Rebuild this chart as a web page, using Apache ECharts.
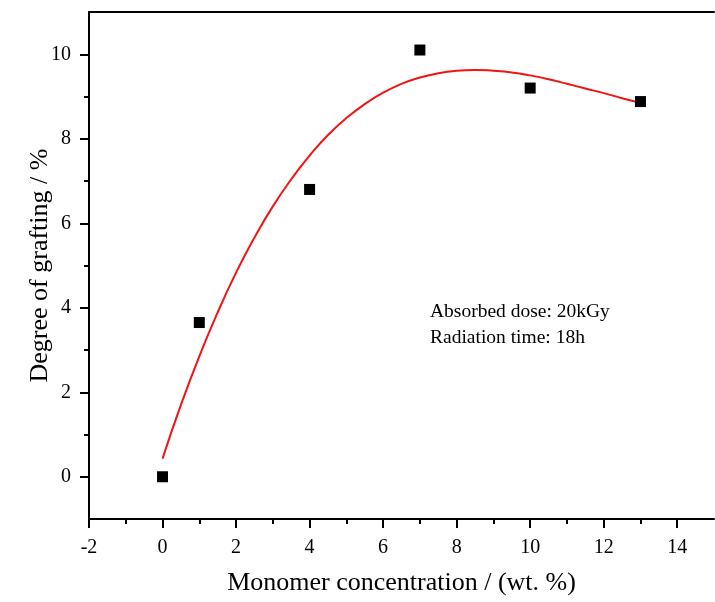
<!DOCTYPE html>
<html>
<head>
<meta charset="utf-8">
<script src="https://cdn.jsdelivr.net/npm/echarts@6/dist/echarts.min.js"></script>
<style>html,body{margin:0;padding:0;background:#fff;}#c{width:715px;height:602px;}</style>
</head>
<body>
<div id="c"></div>
<script>
// Measured points (x: monomer concentration wt.%, y: degree of grafting %)
const concX = [0, 1, 4, 7, 10, 13];
const graftY = [0, 3.65, 6.8, 10.1, 9.2, 8.88];
// Fitted curve
const fitX = [0, 0.5, 1, 1.5, 2, 2.5, 3, 3.5, 4, 4.5, 5, 5.5, 6, 6.5, 7, 7.5, 8, 8.5, 9, 9.5, 10, 10.5, 11, 11.5, 12, 12.5, 13];
const fitY = [0.43, 1.70, 2.85, 3.89, 4.83, 5.66, 6.40, 7.04, 7.60, 8.09, 8.49, 8.82, 9.09, 9.30, 9.45, 9.55, 9.61, 9.63, 9.61, 9.57, 9.50, 9.41, 9.30, 9.19, 9.08, 8.96, 8.85];
// Tick labels
const xMajor = [-2, 0, 2, 4, 6, 8, 10, 12, 14];
const xMinor = [-1, 1, 3, 5, 7, 9, 11, 13];
const yMajor = [0, 2, 4, 6, 8, 10];
const yMinor = [1, 3, 5, 7, 9];
const xTitle = 'Monomer concentration / (wt. %)';
const yTitle = 'Degree of grafting / %';
const note = ['Absorbed dose: 20kGy', 'Radiation time: 18h'];

const FONT = 'Liberation Serif';
const chart = echarts.init(document.getElementById('c'), null, {renderer: 'canvas'});
const axisLineStyle = {color: '#000', width: 2};
chart.setOption({
  backgroundColor: '#fff',
  animation: false,
  grid: {left: 89, right: 1, top: 12, bottom: 83, containLabel: false},
  xAxis: [
    {
      type: 'value', min: -2, max: 15, position: 'bottom',
      name: xTitle, nameLocation: 'middle', nameGap: 51, nameMoveOverlap: false,
      nameTextStyle: {fontFamily: FONT, fontSize: 26, color: '#000'},
      axisLine: {show: true, onZero: false, lineStyle: axisLineStyle},
      axisTick: {show: true, inside: false, length: 9, lineStyle: {color: '#000', width: 2}, customValues: xMajor},
      axisLabel: {show: true, margin: 19, fontFamily: FONT, fontSize: 20, color: '#000', customValues: xMajor},
      splitLine: {show: false}
    },
    {
      type: 'value', min: -2, max: 15, position: 'bottom',
      axisLine: {show: false, onZero: false},
      axisTick: {show: true, inside: false, length: 5, lineStyle: {color: '#000', width: 2}, customValues: xMinor},
      axisLabel: {show: false},
      splitLine: {show: false}
    },
    {
      type: 'value', min: -2, max: 15, position: 'top',
      axisLine: {show: true, onZero: false, lineStyle: axisLineStyle},
      axisTick: {show: false}, axisLabel: {show: false}, splitLine: {show: false}
    }
  ],
  yAxis: [
    {
      type: 'value', min: -1, max: 11, position: 'left',
      name: yTitle, nameLocation: 'middle', nameGap: 36, nameRotate: 90, nameMoveOverlap: false,
      nameTextStyle: {fontFamily: FONT, fontSize: 26, color: '#000'},
      axisLine: {show: true, onZero: false, lineStyle: axisLineStyle},
      axisTick: {show: true, inside: false, length: 9, lineStyle: {color: '#000', width: 2}, customValues: yMajor},
      axisLabel: {show: true, margin: 18, fontFamily: FONT, fontSize: 20, color: '#000', customValues: yMajor},
      splitLine: {show: false}
    },
    {
      type: 'value', min: -1, max: 11, position: 'left',
      axisLine: {show: false, onZero: false},
      axisTick: {show: true, inside: false, length: 5, lineStyle: {color: '#000', width: 2}, customValues: yMinor},
      axisLabel: {show: false},
      splitLine: {show: false}
    }
  ],
  series: [
    {
      type: 'line', xAxisIndex: 0, yAxisIndex: 0,
      data: fitX.map((x, i) => [x, fitY[i]]),
      smooth: true, showSymbol: false, symbol: 'none',
      lineStyle: {color: '#f01414', width: 2}, z: 2
    },
    {
      type: 'scatter', xAxisIndex: 0, yAxisIndex: 0,
      data: concX.map((x, i) => [x, graftY[i]]),
      symbol: 'rect', symbolSize: 11,
      itemStyle: {color: '#000', opacity: 1}, z: 3
    }
  ],
  graphic: [
    {
      type: 'text', left: 430, top: 299,
      style: {text: note.join('\n'), fontFamily: FONT, fontSize: 19.5, lineHeight: 26, fill: '#000'}
    }
  ]
});
</script>
</body>
</html>
